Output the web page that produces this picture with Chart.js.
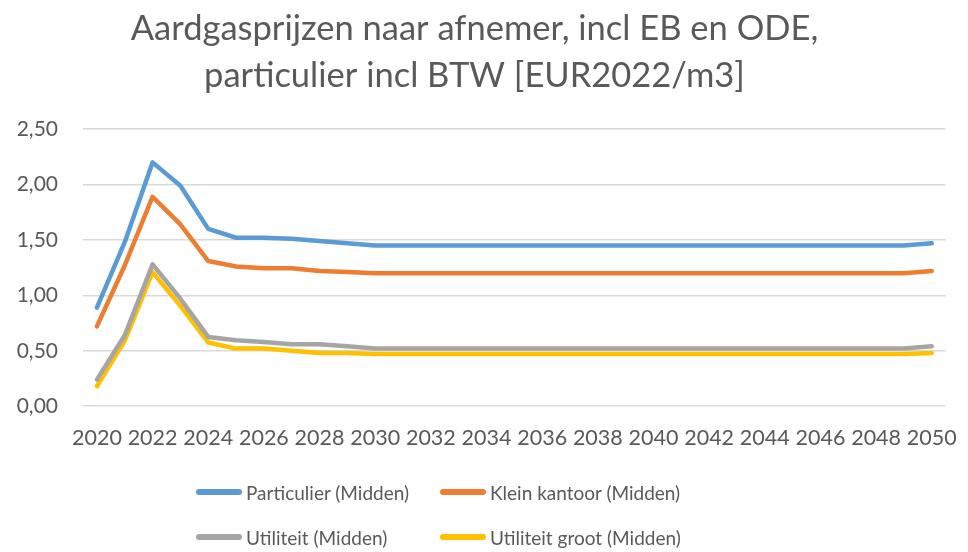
<!DOCTYPE html>
<html>
<head>
<meta charset="utf-8">
<script src="https://cdn.jsdelivr.net/npm/chart.js@4"></script>
<style>
  html, body { margin: 0; padding: 0; background: #fff; }
  #wrap { position: relative; width: 968px; height: 552px; }
  #legend { position: absolute; left: 0; top: 0; width: 968px; height: 552px; pointer-events: none;
            font-family: Lato, "Open Sans", sans-serif; font-size: 19px; color: #595959; }
  .item { position: absolute; display: flex; align-items: center; white-space: nowrap; }
  .item span.swatch { display: inline-block; width: 46px; height: 6px; border-radius: 3px; margin-right: 4px; }
</style>
</head>
<body>
<div id="wrap">
  <canvas id="gasChart" width="968" height="552"></canvas>
  <div id="legend"></div>
</div>
<script>
const years = ['2020','2021','2022','2023','2024','2025','2026','2027','2028','2029','2030',
  '2031','2032','2033','2034','2035','2036','2037','2038','2039','2040',
  '2041','2042','2043','2044','2045','2046','2047','2048','2049','2050'];

const particulier = [0.89,1.48,2.20,1.99,1.60,1.52,1.52,1.51,1.49,1.47,1.45,
  1.45,1.45,1.45,1.45,1.45,1.45,1.45,1.45,1.45,1.45,
  1.45,1.45,1.45,1.45,1.45,1.45,1.45,1.45,1.45,1.47];
const kleinKantoor = [0.72,1.27,1.89,1.64,1.31,1.26,1.245,1.245,1.22,1.21,1.20,
  1.20,1.20,1.20,1.20,1.20,1.20,1.20,1.20,1.20,1.20,
  1.20,1.20,1.20,1.20,1.20,1.20,1.20,1.20,1.20,1.22];
const utiliteit = [0.24,0.64,1.28,0.97,0.625,0.595,0.58,0.56,0.56,0.54,0.52,
  0.52,0.52,0.52,0.52,0.52,0.52,0.52,0.52,0.52,0.52,
  0.52,0.52,0.52,0.52,0.52,0.52,0.52,0.52,0.52,0.54];
const utiliteitGroot = [0.18,0.59,1.21,0.905,0.575,0.52,0.52,0.50,0.48,0.48,0.47,
  0.47,0.47,0.47,0.47,0.47,0.47,0.47,0.47,0.47,0.47,
  0.47,0.47,0.47,0.47,0.47,0.47,0.47,0.47,0.47,0.48];

const seriesNames = ['Particulier (Midden)','Klein kantoor (Midden)','Utiliteit (Midden)','Utiliteit groot (Midden)'];
const seriesColors = ['#5b9bd5','#ed7d31','#a5a5a5','#ffc000'];
const seriesData = [particulier, kleinKantoor, utiliteit, utiliteitGroot];

const titleLines = ['Aardgasprijzen naar afnemer, incl EB en ODE,', 'particulier incl BTW [EUR2022/m3]'];

const font = 'Lato, "Open Sans", sans-serif';
const textColor = '#595959';

const ctx = document.getElementById('gasChart').getContext('2d');

new Chart(ctx, {
  type: 'line',
  data: {
    labels: years,
    datasets: seriesData.map((d, i) => ({
      label: seriesNames[i],
      data: d,
      borderColor: seriesColors[i],
      backgroundColor: seriesColors[i],
      borderWidth: 4.5,
      borderCapStyle: 'round',
      borderJoinStyle: 'round',
      pointRadius: 0,
      tension: 0
    }))
  },
  options: {
    responsive: false,
    animation: false,
    layout: { padding: { left: 0, right: 19, top: 6, bottom: 90 } },
    plugins: {
      legend: { display: false },
      tooltip: { enabled: false },
      title: {
        display: true,
        text: titleLines,
        color: textColor,
        font: { family: font, size: 34.5, weight: 'normal', lineHeight: 1.35 },
        padding: { top: 0, bottom: 30 }
      }
    },
    scales: {
      x: {
        offset: true,
        grid: { display: false },
        border: { display: false },
        ticks: {
          color: textColor,
          font: { family: font, size: 21.5 },
          autoSkip: false,
          maxRotation: 0,
          padding: 11,
          callback: function(value, index) {
            return index % 2 === 0 ? this.getLabelForValue(value) : '';
          }
        }
      },
      y: {
        min: 0,
        max: 2.5,
        grid: { color: '#d9d9d9', lineWidth: 1.5, drawTicks: false },
        border: { display: false },
        afterFit: function(scale) { scale.width = 83; },
        ticks: {
          stepSize: 0.5,
          color: textColor,
          font: { family: font, size: 21 },
          padding: 25,
          callback: function(value) {
            return value.toFixed(2).replace('.', ',');
          }
        }
      }
    }
  }
});

// legend in two columns, like the original
const legendEl = document.getElementById('legend');
const legendPos = [[196, 492], [440, 492], [196, 537], [440, 537]];
seriesNames.forEach((name, i) => {
  const item = document.createElement('div');
  item.className = 'item';
  item.style.left = legendPos[i][0] + 'px';
  item.style.top = (legendPos[i][1] - 13) + 'px';
  item.style.height = '26px';
  const sw = document.createElement('span');
  sw.className = 'swatch';
  sw.style.background = seriesColors[i];
  item.appendChild(sw);
  item.appendChild(document.createTextNode(name));
  legendEl.appendChild(item);
});
</script>
</body>
</html>
